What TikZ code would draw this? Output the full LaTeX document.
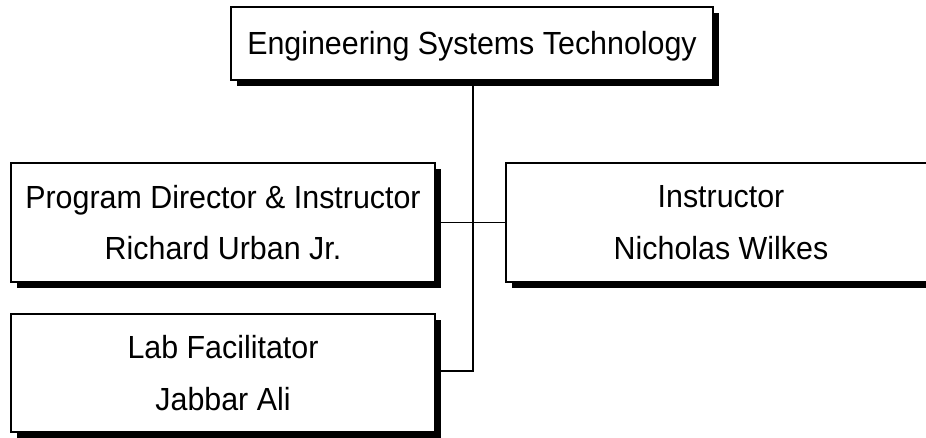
\documentclass[tikz,border=0pt]{standalone}
\usepackage{fontspec}
\setmainfont{Liberation Sans}[FakeStretch=0.95]
\usetikzlibrary{shadows}
\begin{document}
\begin{tikzpicture}[x=1pt,y=1pt,
  orgbox/.style={draw=black, line width=2pt, fill=white, rectangle, inner sep=0pt,
    align=center, font=\fontsize{32}{51.5}\selectfont,
    drop shadow={shadow xshift=6pt, shadow yshift=-6pt, opacity=1, fill=black}},
  conn/.style={draw=black, line width=1.6pt}]
\useasboundingbox (0,0) rectangle (926,-437);
\node[orgbox, minimum width=482pt, minimum height=73pt, text height=29.4pt, text depth=6.7pt] (top) at (472,-43.5) {Engineering Systems Technology};
\node[orgbox, minimum width=424pt, minimum height=119pt] (pd) at (223,-222.5) {Program Director \& Instructor\\Richard Urban Jr.};
\node[orgbox, minimum width=430pt, minimum height=119pt] (ins) at (721,-222.5) {Instructor\\Nicholas Wilkes};
\node[orgbox, minimum width=424pt, minimum height=118pt] (lab) at (223,-373) {Lab Facilitator\\Jabbar Ali};
\coordinate (j1) at (473,-222.5);
\coordinate (j2) at (473,-371);
\draw[conn] (top.south -| j1) -- (j2) -- (lab.east |- j2);
\draw[conn] (pd.east) -- (ins.west);
\end{tikzpicture}
\end{document}
